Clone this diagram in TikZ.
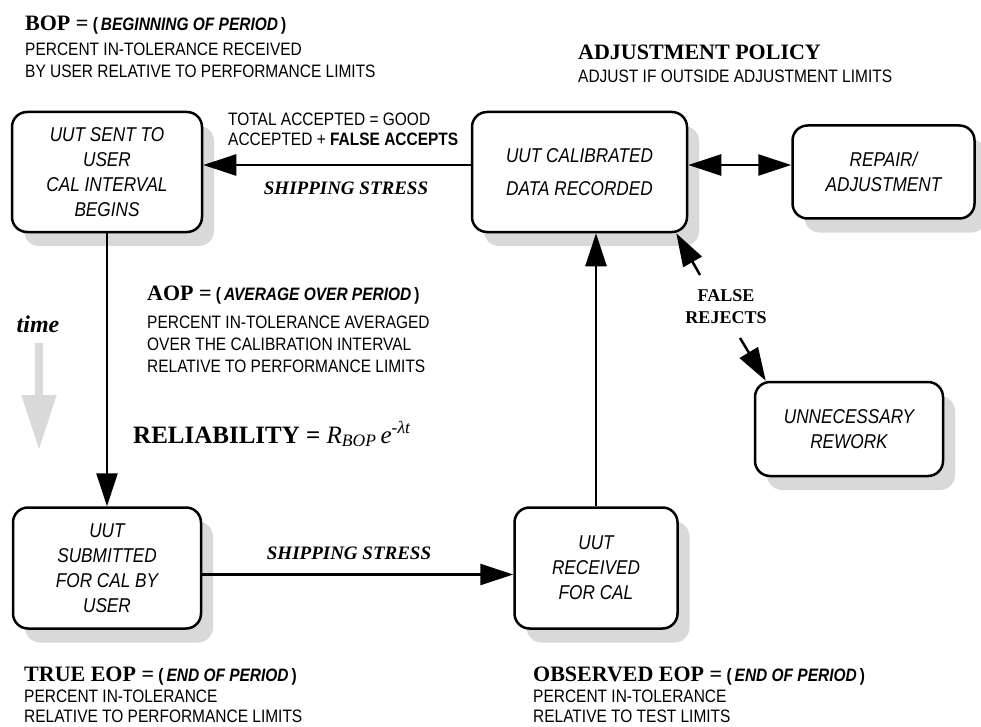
\documentclass[tikz,border=0pt]{standalone}
\usepackage{fontspec}
\setmainfont{Liberation Serif}
\setsansfont{Liberation Sans}[FakeStretch=0.86]
\usepackage{tikz}
\usetikzlibrary{arrows.meta,shadows,positioning,calc}
\definecolor{shadowgray}{RGB}{217,217,217}
\newcommand{\headtxt}[1]{{\rmfamily\bfseries\fontsize{22}{22}\selectfont #1}}
\newcommand{\periodtxt}[1]{\textbf{(}\,{\bfseries\itshape #1}\,\textbf{)}}

\begin{document}
\begin{tikzpicture}[x=1pt, y=1pt,
    box/.style={rectangle, draw, line width=2.5pt, rounded corners=15pt, fill=white,
        drop shadow={shadow xshift=12pt, shadow yshift=-14pt, fill=shadowgray, opacity=1},
        align=center, inner sep=0pt, font=\sffamily\itshape\fontsize{20}{25}\selectfont},
    arrow/.style={-{Triangle[length=33pt,width=21pt]}, line width=2.5pt},
    dblarrow/.style={{Triangle[length=33pt,width=21pt]}-{Triangle[length=33pt,width=21pt]}, line width=2.5pt},
    timearrow/.style={-{Triangle[length=55pt,width=33pt]}, line width=8pt, shadowgray},
    note/.style={anchor=north west, align=left, inner sep=0pt, font=\sffamily\fontsize{18}{22}\selectfont},
    stress/.style={inner sep=0pt, font=\rmfamily\bfseries\itshape\fontsize{19}{22}\selectfont}
]
    \path[use as bounding box, fill=white] (0,0) rectangle (981,-727);

    \node[box, minimum width=190pt, minimum height=120pt] (sent) at (107,-172) {UUT SENT TO\\USER\\CAL INTERVAL\\BEGINS};
    \node[box, minimum width=215pt, minimum height=120pt] (calib) at (579.5,-172) {UUT CALIBRATED\\[8pt]DATA RECORDED};
    \node[box, minimum width=182pt, minimum height=93pt, right=103pt of calib] (repair) {REPAIR/\\ADJUSTMENT};
    \node[box, minimum width=188pt, minimum height=94pt] (rework) at (849,-429) {UNNECESSARY\\REWORK};
    \node[box, minimum width=188pt, minimum height=121pt, below=273pt of sent] (submit) {UUT\\SUBMITTED\\FOR CAL BY\\USER};
    \node[box, minimum width=163pt, minimum height=121pt, right=311pt of submit] (received) {UUT\\RECEIVED\\FOR CAL};

    \node[note] (bop) at (25,-16) {\headtxt{BOP =} \periodtxt{BEGINNING OF PERIOD}\\[3pt]PERCENT IN-TOLERANCE RECEIVED\\BY USER RELATIVE TO PERFORMANCE LIMITS};
    \node[note] (policy) at (578,-45) {\headtxt{ADJUSTMENT POLICY}\\[1pt]ADJUST IF OUTSIDE ADJUSTMENT LIMITS};
    \node[note, font=\sffamily\fontsize{18}{20}\selectfont] (accepted) at (228,-113) {TOTAL ACCEPTED = GOOD\\ACCEPTED + \textbf{FALSE ACCEPTS}};
    \node[note] (aop) at (147,-286) {\headtxt{AOP =} \periodtxt{AVERAGE OVER PERIOD}\\[6pt]PERCENT IN-TOLERANCE AVERAGED\\OVER THE CALIBRATION INTERVAL\\RELATIVE TO PERFORMANCE LIMITS};
    \node[anchor=base west, inner sep=0pt, font=\rmfamily\fontsize{25}{25}\selectfont] (reliab) at (133,-443) {\textbf{RELIABILITY =} \textit{R}\textsubscript{\textit{BOP}}\,\textit{e}\textsuperscript{\textit{-λt}}};
    \node[note, font=\sffamily\fontsize{18}{20}\selectfont] (trueeop) at (24,-667) {\headtxt{TRUE EOP =} \periodtxt{END OF PERIOD}\\[1pt]PERCENT IN-TOLERANCE\\RELATIVE TO PERFORMANCE LIMITS};
    \node[note, font=\sffamily\fontsize{18}{20}\selectfont] (obseop) at (533,-667) {\headtxt{OBSERVED EOP =} \periodtxt{END OF PERIOD}\\[1pt]PERCENT IN-TOLERANCE\\RELATIVE TO TEST LIMITS};

    \node[stress] (shiptop) at (346,-188) {SHIPPING STRESS};
    \node[stress] (shipbot) at (349,-553) {SHIPPING STRESS};
    \node[inner sep=0pt, align=center, font=\rmfamily\bfseries\fontsize{18}{22}\selectfont] (falserej) at (726,-307) {FALSE\\REJECTS};
    \node[inner sep=0pt, font=\rmfamily\bfseries\itshape\fontsize{24}{24}\selectfont] (time) at (38,-324) {time};
    \coordinate (frtop) at (700,-275);
    \coordinate (frbot) at (740,-338);

    \draw[timearrow] (39,-343) -- (39,-450);
    \draw[arrow] ([yshift=7pt]calib.west) -- ([yshift=7pt]sent.east);
    \draw[dblarrow] ([yshift=7pt]calib.east) -- ([yshift=7pt]repair.west);
    \draw[arrow] (sent.south) -- (submit.north);
    \draw[arrow] ([yshift=-6.5pt]submit.east) -- ([yshift=-6.5pt]received.west);
    \draw[arrow] (received.north) -- (received.north |- calib.south);
    \draw[arrow] (frtop) -- ([xshift=-12pt]calib.south east);
    \draw[arrow] (frbot) -- ([xshift=12pt]rework.north west);
\end{tikzpicture}
\end{document}
